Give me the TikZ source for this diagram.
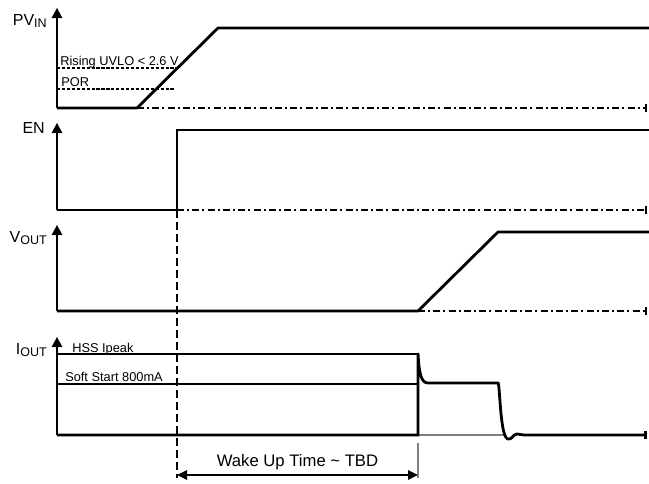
\documentclass[tikz,border=0pt]{standalone}
\usepackage{fontspec}
\setmainfont{Liberation Sans}
\usetikzlibrary{arrows.meta}
\newcommand{\lowsub}[1]{\raisebox{-1.5pt}{\fontsize{9.4}{10}\selectfont #1}}

\begin{document}
\begin{tikzpicture}[x=0.75pt, y=-0.75pt,
  yaxis/.style={line width=0.9pt, -{Triangle[length=7.6pt,width=8pt]}},
  wave/.style={line width=2.1pt},
  idle/.style={line width=1.6pt, dash pattern=on 5.2pt off 2.4pt on 1.5pt off 2.4pt, -{Bar[width=5.5pt]}},
  threshold/.style={line width=1.3pt, dash pattern=on 2.4pt off 1.3pt},
  thinlev/.style={line width=0.8pt},
  guide/.style={line width=1.3pt, dash pattern=on 6pt off 3pt},
  span/.style={line width=1.2pt, {Triangle[length=7.5pt,width=7pt]}-{Triangle[length=7.5pt,width=7pt]}},
  siglabel/.style={anchor=base east, inner sep=0pt, font=\fontsize{12}{14}\selectfont},
  note/.style={anchor=base west, inner sep=0pt, font=\fontsize{9.6}{11}\selectfont}]
  \useasboundingbox (0,0) rectangle (649,483);

  % Axes
  \foreach \ytop/\ybase in {8/108, 123/210, 225/311, 337/435}
    \draw[yaxis] (57,\ybase) -- (57,\ytop);

  % PV_IN
  \node[siglabel] (pvin) at (47,25) {PV\lowsub{IN}};
  \draw[threshold] (57,68) -- (177,68);
  \draw[threshold] (57,89) -- (175,89);
  \node[note] (uvlo) at (60,65) {Rising UVLO < 2.6 V};
  \node[note] (por) at (61,86) {POR};
  \draw[idle] (137,108) -- (647,108);
  \draw[wave] (57,108) -- (137,108) -- (218,28) -- (649,28);

  % Wake up guide lines
  \draw[guide] (177,210) -- (177,478);
  \draw[gray, line width=0.8pt] (418,443) -- (418,478);

  % EN
  \node[siglabel] (en) at (45,133) {EN};
  \draw[idle] (177,210) -- (647,210);
  \draw[wave] (57,210) -- (177,210) -- (177,130) -- (649,130);

  % V_OUT
  \node[siglabel] (vout) at (47,242) {V\lowsub{OUT}};
  \draw[idle] (418,311) -- (647,311);
  \draw[wave] (57,311) -- (418,311) -- (498,232) -- (649,232);

  % I_OUT
  \node[siglabel] (iout) at (47,354) {I\lowsub{OUT}};
  \draw[thinlev] (57,354) -- (418,354);
  \draw[thinlev] (57,384) -- (418,384);
  \node[note] (hss) at (72,352) {HSS Ipeak};
  \node[note] (soft) at (65,381) {Soft Start 800mA};
  \draw[gray, line width=0.8pt] (418,435) -- (506,435);
  \draw[wave, -{Bar[width=5.5pt]}] (57,435) -- (418,435) -- (418,353)
    .. controls (419,373) and (421,383) .. (428,383) -- (498,383)
    .. controls (500,384) and (500,438) .. (508,439)
    .. controls (512,440) and (513,434) .. (517,434)
    .. controls (520,434) and (521,435) .. (524,435) -- (647,435);

  % Wake up time
  \coordinate (wakeL) at (177,475);
  \coordinate (wakeR) at (418,475);
  \draw[span] (wakeL) -- (wakeR);
  \node[anchor=base, inner sep=0pt, font=\fontsize{12.5}{14}\selectfont] (wake) at (297.5,466) {Wake Up Time \textasciitilde{} TBD};
\end{tikzpicture}
\end{document}
